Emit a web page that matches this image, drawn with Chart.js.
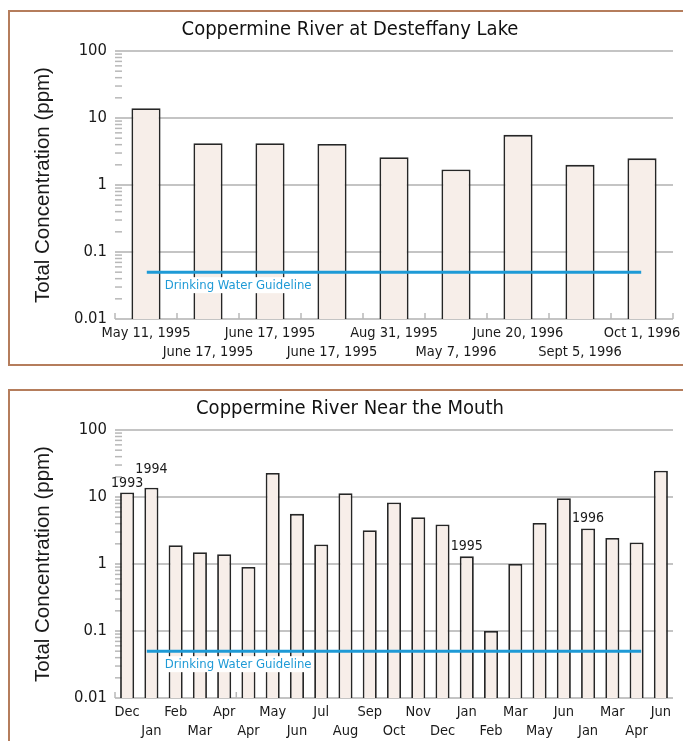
<!DOCTYPE html>
<html>
<head>
<meta charset="utf-8">
<script src="https://cdn.jsdelivr.net/npm/chart.js@4/dist/chart.umd.min.js"></script>
<style>
  html, body { margin: 0; padding: 0; background: #fff; }
  body { width: 683px; height: 741px; overflow: hidden; position: relative; }
  .frame { position: absolute; left: 8px; width: 700px; border: 2px solid #b57d5c; box-sizing: border-box; }
  #frameTop { top: 10px; height: 356px; }
  #frameBottom { top: 389px; height: 400px; }
  canvas { position: absolute; left: 0; }
  #lakeChart { top: 0; }
  #mouthChart { top: 379px; }
</style>
</head>
<body>
<div class="frame" id="frameTop"></div>
<div class="frame" id="frameBottom"></div>
<canvas id="lakeChart" width="700" height="370"></canvas>
<canvas id="mouthChart" width="700" height="370"></canvas>
<script>
// Coppermine River at Desteffany Lake
const lakeDates = ['May 11, 1995', 'June 17, 1995', 'June 17, 1995', 'June 17, 1995', 'Aug 31, 1995',
                   'May 7, 1996', 'June 20, 1996', 'Sept 5, 1996', 'Oct 1, 1996'];
const lakeValues = [14.0, 4.2, 4.2, 4.1, 2.6, 1.7, 5.6, 2.0, 2.5];

// Coppermine River near the mouth
const mouthMonths = ['Dec', 'Jan', 'Feb', 'Mar', 'Apr', 'Apr', 'May', 'Jun', 'Jul', 'Aug', 'Sep', 'Oct',
                     'Nov', 'Dec', 'Jan', 'Feb', 'Mar', 'May', 'Jun', 'Jan', 'Mar', 'Apr', 'Jun'];
const mouthValues = [11.7, 13.8, 1.9, 1.5, 1.4, 0.9, 22.8, 5.6, 1.95, 11.4, 3.2, 8.3,
                     5.0, 3.9, 1.3, 0.1, 1.0, 4.1, 9.6, 3.4, 2.45, 2.1, 24.7];
const yearIndex = [0, 1, 14, 19];
const yearText = ['1993', '1994', '1995', '1996'];
const yearGap = [2, 11, 3, 3];

const yTicks = [0.01, 0.1, 1, 10, 100];
const guideValue = 0.05;
const guideSpan = [0.057, 0.943];   // share of the plot width
const guideText = 'Drinking Water Guideline';

const NARROW = "'DejaVu Sans Condensed', 'Liberation Sans Narrow', sans-serif";
const REGULAR = "'Liberation Sans', Arial, sans-serif";
const TEXT = '#1a1a1a';
const BLUE = '#1e9ad6';
const GRID = '#c4c4c4';

const decorPlugin = {
    id: 'decor',
    beforeDatasetsDraw(chart, args, opts) {
        const ctx = chart.ctx;
        const x = chart.scales.x, y = chart.scales.y;
        ctx.save();
        ctx.strokeStyle = '#b8b8b8';
        ctx.lineWidth = 1.5;
        // minor log ticks inside the axis
        for (let d = -2; d < 2; d++) {
            for (let m = 2; m < 10; m++) {
                const py = y.getPixelForValue(m * Math.pow(10, d));
                ctx.beginPath();
                ctx.moveTo(x.left, py);
                ctx.lineTo(x.left + 7, py);
                ctx.stroke();
            }
        }
        // category boundary ticks on the base line
        const n = chart.data.labels.length;
        const step = x.width / n;
        opts.boundaries.forEach(i => {
            const px = x.left + i * step;
            ctx.beginPath();
            ctx.moveTo(px, y.bottom);
            ctx.lineTo(px, y.bottom - 6);
            ctx.stroke();
        });
        ctx.restore();
    },
    afterDatasetsDraw(chart, args, opts) {
        const ctx = chart.ctx;
        ctx.save();
        // guideline label with white box
        const line = chart.getDatasetMeta(1).data[0];
        ctx.font = '13px ' + NARROW;
        ctx.textBaseline = 'middle';
        ctx.textAlign = 'left';
        const w = ctx.measureText(guideText).width;
        const lx = line.x + 18, ly = line.y + 13;
        ctx.fillStyle = '#fff';
        ctx.fillRect(lx - 2, ly - 8, w + 4, 16);
        ctx.fillStyle = BLUE;
        ctx.fillText(guideText, lx, ly);
        // year marks above bars
        const bars = chart.getDatasetMeta(0).data;
        ctx.font = '14px ' + NARROW;
        ctx.fillStyle = TEXT;
        ctx.textAlign = 'center';
        ctx.textBaseline = 'bottom';
        (opts.yearIndex || []).forEach((idx, k) => {
            ctx.fillText(opts.yearText[k], bars[idx].x, bars[idx].y - opts.yearGap[k]);
        });
        ctx.restore();
    }
};

function makeChart(id, title, labels, values, barPct, boundaries, years) {
    return new Chart(document.getElementById(id), {
        type: 'bar',
        data: {
            labels: labels,
            datasets: [
                {
                    data: values,
                    backgroundColor: '#f7eee9',
                    borderColor: '#262626',
                    borderWidth: 1.8,
                    grouped: false,
                    categoryPercentage: 1,
                    barPercentage: barPct,
                    order: 2
                },
                {
                    type: 'line',
                    xAxisID: 'xg',
                    data: [{ x: guideSpan[0], y: guideValue }, { x: guideSpan[1], y: guideValue }],
                    borderColor: BLUE,
                    borderWidth: 3,
                    pointRadius: 0,
                    order: 1
                }
            ]
        },
        options: {
            responsive: false,
            animation: false,
            devicePixelRatio: 1,
            layout: { padding: { left: 27, right: 27, top: 0, bottom: 0 } },
            plugins: {
                legend: { display: false },
                tooltip: { enabled: false },
                title: {
                    display: true,
                    text: title,
                    color: '#111',
                    font: { family: NARROW, size: 20, weight: 'normal', lineHeight: 1.2 },
                    padding: { top: 18, bottom: 9 }
                },
                decor: Object.assign({ boundaries: boundaries }, years)
            },
            scales: {
                x: {
                    grid: { display: false, drawTicks: false },
                    border: { display: false },
                    ticks: {
                        autoSkip: false,
                        maxRotation: 0,
                        minRotation: 0,
                        padding: 4.5,
                        color: TEXT,
                        font: { family: NARROW, size: 14.5, lineHeight: 1.31 },
                        callback: function (value, index) {
                            const label = this.getLabelForValue(value);
                            return index % 2 === 0 ? [label, ''] : ['', label];
                        }
                    },
                    afterFit: s => { s.height = 51; }
                },
                xg: { type: 'linear', display: false, offset: false, min: 0, max: 1 },
                y: {
                    type: 'logarithmic',
                    min: yTicks[0],
                    max: yTicks[yTicks.length - 1],
                    border: { display: false },
                    grid: { color: GRID, lineWidth: 2, drawTicks: false },
                    ticks: {
                        padding: 8,
                        color: TEXT,
                        font: { family: NARROW, size: 16.5 },
                        callback: v => yTicks.some(t => Math.abs(t - v) < t * 1e-6) ? String(v) : null
                    },
                    title: {
                        display: true,
                        text: 'Total Concentration (ppm)',
                        color: TEXT,
                        font: { family: REGULAR, size: 20.5 },
                        padding: { top: 4, bottom: 0 }
                    },
                    afterFit: s => { s.width = 88; }
                }
            }
        },
        plugins: [decorPlugin]
    });
}

makeChart('lakeChart', 'Coppermine River at Desteffany Lake', lakeDates, lakeValues, 0.47,
    [0, 1, 2, 3, 4, 5, 6, 7, 8, 9], {});
makeChart('mouthChart', 'Coppermine River Near the Mouth', mouthMonths, mouthValues, 0.58,
    [0, 5], { yearIndex: yearIndex, yearText: yearText, yearGap: yearGap });
</script>
</body>
</html>
